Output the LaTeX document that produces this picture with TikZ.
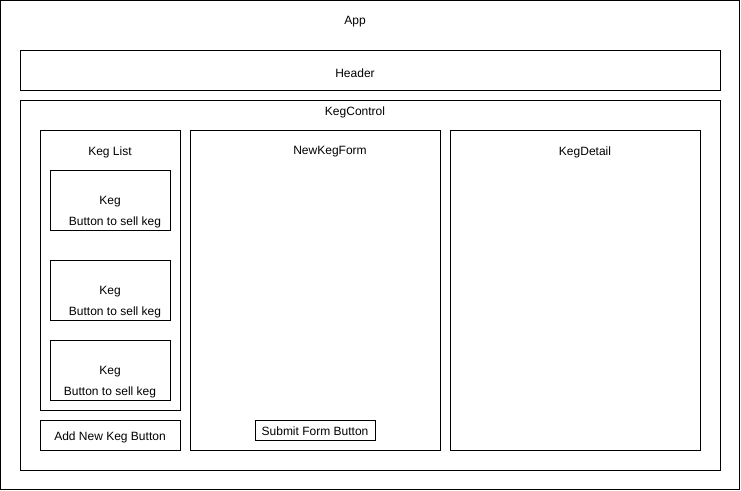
\documentclass[tikz,border=0pt]{standalone}
\usepackage{fontspec}
\setmainfont{Liberation Sans}
\usepackage{tikz}
\usetikzlibrary{calc, positioning}

\begin{document}
\begin{tikzpicture}[x=0.75pt, y=-0.75pt,
    box/.style={draw=black, line width=0.75pt},
    lbl/.style={inner sep=0pt, font=\fontsize{9}{11}\selectfont}]
    \useasboundingbox (0,0) rectangle (741,491);

    % outer frames
    \draw[box] (0.5,0.5) rectangle (739.5,489.5);
    \draw[box] (20.5,50.5) rectangle (720.5,90.5);
    \draw[box] (20.5,100.5) rectangle (720.5,470.5);

    \node[lbl] (app) at (355,22) {App};
    \node[lbl] (header) at (355,73) {Header};
    \node[lbl] (kegcontrol) at (355,112) {KegControl};

    % keg list column
    \draw[box] (40.5,130.5) rectangle (180.5,410.5);
    \node[lbl] (keglist) at (110,152) {Keg List};

    \draw[box] (50.5,170.5) rectangle (170.5,230.5);
    \node[lbl] (keg1) at (110,202) {Keg};
    \node[lbl] (sell1) at (115,222) {Button to sell keg};

    \draw[box] (50.5,260.5) rectangle (170.5,320.5);
    \node[lbl] (keg2) at (110,292) {Keg};
    \node[lbl] (sell2) at (115,312) {Button to sell keg};

    \draw[box] (50.5,340.5) rectangle (170.5,400.5);
    \node[lbl] (keg3) at (110,372) {Keg};
    \node[lbl] (sell3) at (110,392) {Button to sell keg};

    \draw[box] (40.5,420.5) rectangle (180.5,450.5);
    \node[lbl] (addkeg) at (110,437) {Add New Keg Button};

    % form
    \draw[box] (190.5,130.5) rectangle (440.5,450.5);
    \node[lbl] (newkegform) at (330,152) {NewKegForm};
    \draw[box] (255.5,420.5) rectangle (375.5,440.5);
    \node[lbl] (submit) at (315,431.5) {Submit Form Button};

    % detail
    \draw[box] (450.5,130.5) rectangle (700.5,450.5);
    \node[lbl] (kegdetail) at (585,152) {KegDetail};

\end{tikzpicture}
\end{document}
